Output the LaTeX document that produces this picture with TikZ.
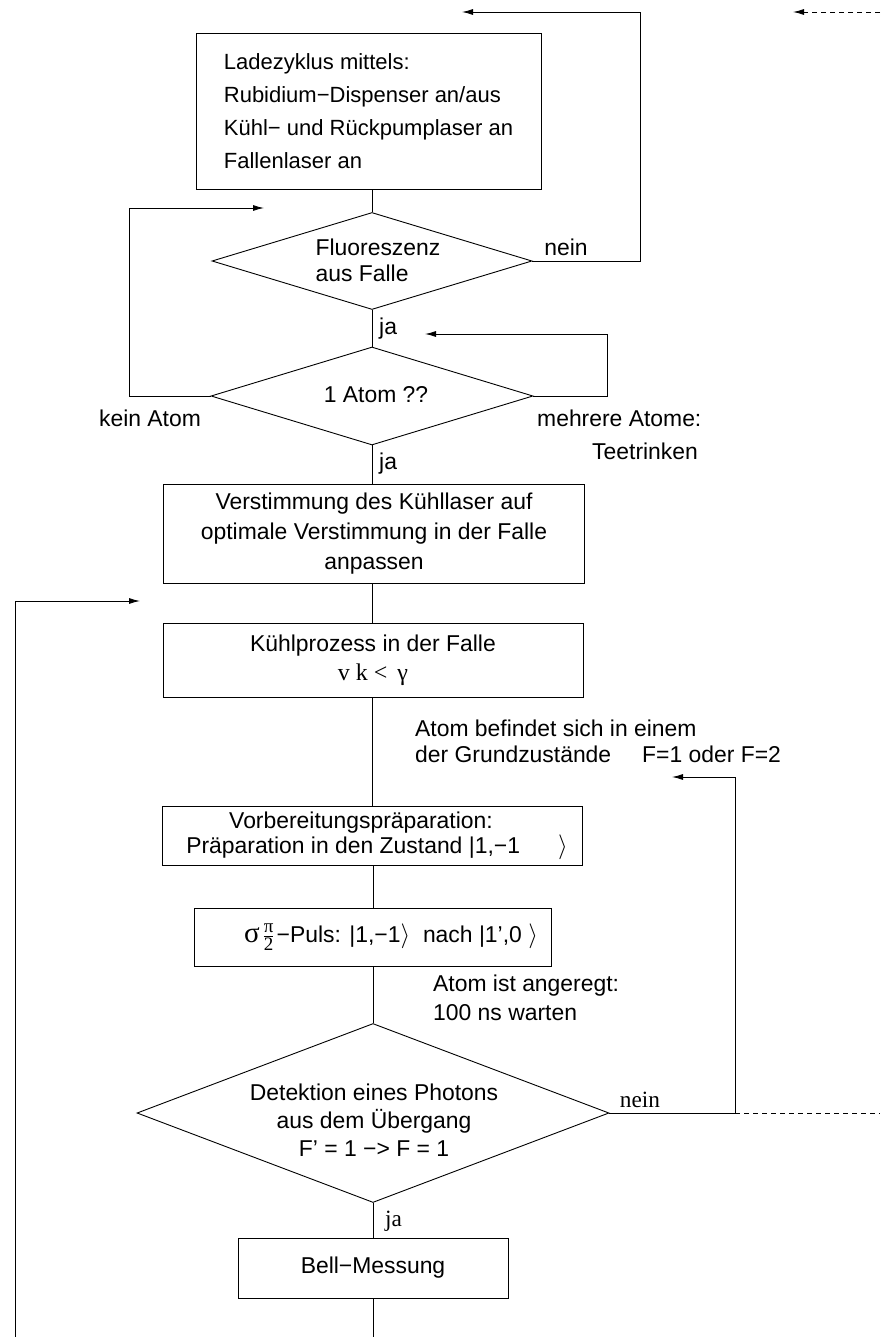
\documentclass[tikz,border=0pt]{standalone}
\usepackage{fontspec}
\setmainfont{Liberation Sans}
\newfontfamily\serf{Liberation Serif}
\usetikzlibrary{arrows.meta,shapes.geometric}
\begin{document}
\begin{tikzpicture}[x=1pt,y=-1pt,
  font=\fontsize{22.9}{30}\selectfont,
  box/.style={draw,line width=0.9pt,inner sep=0pt,align=center},
  dia/.style={draw,diamond,line width=0.9pt,inner sep=0pt},
  conn/.style={line width=0.9pt},
  arr/.style={line width=0.9pt,-{Latex[length=11pt,width=6pt]}},
  darr/.style={line width=0.9pt,dash pattern=on 5pt off 4pt,-{Latex[length=11pt,width=6pt]}},
  dline/.style={line width=0.9pt,dash pattern=on 5pt off 4pt},
  lbl/.style={inner sep=0pt},
  ser/.style={inner sep=0pt,font=\serf\fontsize{23.3}{23.3}\selectfont}]
\useasboundingbox (0,0) rectangle (880,1337);

% boxes and diamonds
\node[box,minimum width=345pt,minimum height=156pt,align=left,
  font=\fontsize{22}{33}\selectfont] (b1) at (368.5,111)
  {Ladezyklus mittels:\\Rubidium−Dispenser an/aus\\Kühl− und Rückpumplaser an\\Fallenlaser an};
\node[dia,minimum width=320pt,minimum height=97pt] (d1) at (372,261) {};
\node[lbl,align=left,font=\fontsize{22.9}{26}\selectfont] (t1) at (378,260) {Fluoreszenz\\aus Falle};
\node[dia,minimum width=322pt,minimum height=98pt] (d2) at (372,396) {};
\node[lbl] (t2) at (376,395) {1 Atom ??};
\node[box,minimum width=421pt,minimum height=99pt] (b3) at (374,534)
  {Verstimmung des Kühllaser auf\\optimale Verstimmung in der Falle\\anpassen};
\node[box,minimum width=420pt,minimum height=74pt] (b4) at (373,660)
  {Kühlprozess in der Falle\\[-1pt]{\serf\fontsize{24}{24}\selectfont v k <\, γ}};
\node[box,minimum width=420pt,minimum height=59pt,font=\fontsize{22.9}{25}\selectfont] (b5) at (372,836)
  {Vorbereitungspräparation:\hspace*{22pt}\\\hspace*{10pt}Präparation in den Zustand |1,−1\hspace{38pt}$\rangle$};
\node[box,minimum width=357pt,minimum height=58pt] (b6) at (372.5,937) {};
\node[lbl] (t6) at (391,937)
  {{\serf\fontsize{29}{29}\selectfont σ}\hspace{3pt}${\mbox{\serf\fontsize{19}{19}\selectfont π}\over\mbox{\serf\fontsize{19}{19}\selectfont 2}}$\hspace{2pt}−Puls: |1,−1$\rangle$\ \ nach |1’,0 $\rangle$};
\node[dia,minimum width=472pt,minimum height=179pt] (d3) at (373,1113) {};
\node[lbl,align=center,font=\fontsize{22.9}{28}\selectfont] (t3) at (374,1120)
  {Detektion eines Photons\\aus dem Übergang\\F’ = 1 −> F = 1};
\node[box,minimum width=270pt,minimum height=60pt] (b7) at (373,1268) {Bell−Messung};

% labels
\node[lbl] (lnein1) at (566,247) {nein};
\node[lbl,anchor=west] (lja1) at (379,329) {ja};
\node[lbl] (lkein) at (150,418) {kein Atom};
\node[lbl,anchor=west] (lmehr) at (537,418) {mehrere Atome:};
\node[lbl,anchor=west] (ltee) at (592,451) {Teetrinken};
\node[lbl,anchor=west] (lja2) at (379,464) {ja};
\node[lbl,anchor=west] (latom1) at (415,728) {Atom befindet sich in einem};
\node[lbl,anchor=west] (latom2) at (415,754) {der Grundzustände\hspace{31pt}F=1 oder F=2};
\node[lbl,anchor=west] (lange1) at (433,986) {Atom ist angeregt:};
\node[lbl,anchor=west] (lange2) at (433,1013) {100 ns warten};
\node[ser] (lnein2) at (640,1100) {nein};
\node[ser,anchor=west] (lja3) at (385,1221) {ja};

% coordinates
\coordinate (c1) at (640,12);
\coordinate (tp1) at (462,12);
\coordinate (ds) at (880,12);
\coordinate (dt) at (793,12);
\coordinate (c2) at (129,208);
\coordinate (tp2) at (264,208);
\coordinate (c3) at (607,334);
\coordinate (tp3) at (425,334);
\coordinate (c4) at (15,1337);
\coordinate (c5) at (15,601);
\coordinate (tp5) at (140,601);
\coordinate (c6) at (735,1113);
\coordinate (c7) at (735,777);
\coordinate (tp7) at (672,777);
\coordinate (de) at (880,1113);
\coordinate (bend) at (373,1337);

% connectors
\draw[conn] (d1.north |- b1.south) -- (d1.north);
\draw[conn] (d1.south) -- (d2.north);
\draw[arr] (d1.east) -- (d1.east -| c1) -- (c1) -- (tp1);
\draw[darr] (ds) -- (dt);
\draw[arr] (d2.west) -- (d2.west -| c2) -- (c2) -- (tp2);
\draw[arr] (d2.east) -- (d2.east -| c3) -- (c3) -- (tp3);
\draw[conn] (d2.south) -- (d2.south |- b3.north);
\draw[conn] (d2.south |- b3.south) -- (d2.south |- b4.north);
\draw[arr] (c4) -- (c5) -- (tp5);
\draw[conn] (d2.south |- b4.south) -- (d2.south |- b5.north);
\draw[conn] (d3.north |- b5.south) -- (d3.north |- b6.north);
\draw[conn] (d3.north |- b6.south) -- (d3.north);
\draw[arr] (d3.east) -- (c6) -- (c7) -- (tp7);
\draw[dline] (c6) -- (de);
\draw[conn] (d3.south) -- (d3.south |- b7.north);
\draw[conn] (d3.south |- b7.south) -- (bend);
\end{tikzpicture}
\end{document}
